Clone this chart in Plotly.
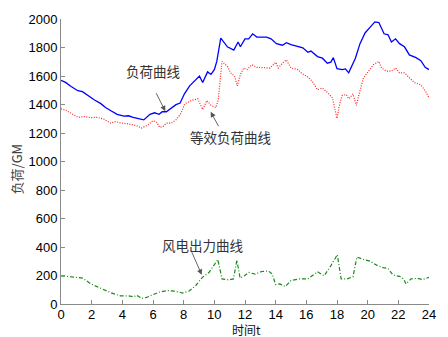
import plotly.graph_objects as go

# ---- data ----
load_t = [0, 0.3, 0.66, 1.1, 1.4, 1.73, 2.16, 2.6, 2.9, 3.2, 3.66, 4.1, 4.4, 4.7, 5.15, 5.4,
          5.8, 6.1, 6.4, 6.6, 6.87, 7.2, 7.5, 7.77, 8.05, 8.39, 8.7, 9.03, 9.24, 9.56, 9.78,
          10.0, 10.16, 10.31, 10.42, 10.85, 11.27, 11.55, 11.7, 12.0, 12.24, 12.5, 12.77,
          13.1, 13.4, 13.7, 14.05, 14.44, 14.7, 15.0, 15.45, 15.77, 16.1, 16.3, 16.73, 17.05,
          17.37, 17.6, 17.76, 18.0, 18.34, 18.55, 18.76, 19.2, 19.5, 19.83, 20.15, 20.47,
          20.73, 20.9, 21.07, 21.33, 21.55, 21.82, 22.08, 22.4, 22.72, 23.15, 23.47, 23.75, 24]
load_v = [1570, 1555, 1526, 1497, 1490, 1463, 1433, 1406, 1379, 1360, 1331, 1319, 1321, 1310,
          1297, 1292, 1331, 1342, 1331, 1349, 1349, 1372, 1399, 1410, 1475, 1531, 1565, 1599,
          1554, 1629, 1611, 1645, 1702, 1805, 1866, 1805, 1782, 1839, 1805, 1861, 1861, 1896,
          1873, 1873, 1873, 1861, 1827, 1816, 1834, 1820, 1805, 1798, 1766, 1775, 1736, 1725,
          1690, 1697, 1729, 1652, 1645, 1650, 1622, 1725, 1827, 1902, 1941, 1980, 1975, 1941,
          1896, 1889, 1839, 1861, 1827, 1805, 1748, 1729, 1707, 1661, 1645]

eq_t = [0, 0.3, 0.66, 1.1, 1.52, 1.95, 2.37, 2.8, 3.23, 3.55, 3.98, 4.4, 4.94, 5.26, 5.69, 6.0,
        6.23, 6.44, 6.65, 6.87, 7.19, 7.5, 7.83, 8.07, 8.5, 8.92, 9.24, 9.52, 9.78, 10.1, 10.25,
        10.36, 10.5, 10.85, 11.06, 11.32, 11.5, 11.7, 11.92, 12.13, 12.45, 12.77, 13.2, 13.63,
        14.0, 14.17, 14.44, 14.7, 15.0, 15.45, 15.66, 16.1, 16.4, 16.73, 17.05, 17.37, 17.7,
        17.85, 18.0, 18.18, 18.34, 18.6, 18.77, 19.04, 19.26, 19.5, 19.73, 20.05, 20.37, 20.73,
        20.9, 21.22, 21.55, 21.82, 22.08, 22.4, 22.72, 23.04, 23.47, 23.75, 24]
eq_v = [1370, 1360, 1338, 1310, 1315, 1308, 1310, 1297, 1269, 1280, 1269, 1264, 1251, 1235,
        1258, 1287, 1276, 1239, 1246, 1269, 1269, 1292, 1338, 1405, 1428, 1440, 1365, 1428,
        1394, 1379, 1428, 1565, 1702, 1668, 1622, 1599, 1531, 1611, 1656, 1645, 1679, 1661,
        1656, 1656, 1697, 1656, 1690, 1713, 1656, 1645, 1622, 1593, 1561, 1504, 1515, 1485,
        1447, 1383, 1303, 1406, 1463, 1470, 1440, 1474, 1394, 1497, 1588, 1634, 1679, 1702,
        1656, 1634, 1634, 1656, 1622, 1622, 1588, 1554, 1538, 1497, 1447]

wind_t = [0, 0.45, 0.88, 1.41, 1.95, 2.59, 3.23, 3.87, 4.4, 4.73, 4.94, 5.26, 5.58, 6.0, 6.44,
          6.97, 7.4, 7.94, 8.36, 8.79, 9.22, 9.65, 9.97, 10.23, 10.5, 10.93, 11.25, 11.47,
          11.68, 11.96, 12.24, 12.66, 13.09, 13.52, 13.78, 13.99, 14.27, 14.63, 15.0, 15.55,
          16.1, 16.73, 17.16, 17.59, 18.02, 18.27, 18.66, 19.04, 19.3, 19.73, 20.15, 20.58,
          21.0, 21.33, 21.65, 22.08, 22.34, 22.5, 22.83, 23.25, 23.58, 24.0]
wind_v = [198, 194, 187, 182, 141, 112, 80, 57, 57, 50, 62, 39, 46, 66, 84, 94, 91, 77, 91,
          130, 187, 221, 267, 312, 176, 169, 176, 308, 182, 198, 221, 210, 228, 232, 210, 137,
          141, 123, 164, 176, 176, 226, 198, 267, 346, 176, 176, 191, 330, 312, 301, 273, 255,
          249, 203, 194, 176, 141, 176, 180, 171, 187]

x_ticks = list(range(0, 25, 2))
y_ticks = list(range(0, 2001, 200))

label_load = "负荷曲线"
label_eq = "等效负荷曲线"
label_wind = "风电出力曲线"
x_title = "时间t"
y_title = "负荷/GM"

# ---- figure ----
fig = go.Figure()
fig.add_trace(go.Scatter(x=load_t, y=load_v, mode="lines",
                         line=dict(color="#0000FF", width=1.3)))
fig.add_trace(go.Scatter(x=eq_t, y=eq_v, mode="lines",
                         line=dict(color="#FF2020", width=1.2, dash="1px,1.5px")))
fig.add_trace(go.Scatter(x=wind_t, y=wind_v, mode="lines",
                         line=dict(color="#1a8a1a", width=1.2, dash="4px,2px,1px,2px")))

cjk = "Noto Sans CJK SC"
txt_font = dict(family=cjk, size=13.5, color="#333333")

def label(text, x, y):
    fig.add_annotation(x=x, y=y, xref="x", yref="y", text=text, showarrow=False,
                       font=txt_font, xanchor="center", yanchor="middle")

def arrow(x, y, ax, ay):
    fig.add_annotation(x=x, y=y, xref="x", yref="y", ax=ax, ay=ay, axref="x", ayref="y",
                       text="", showarrow=True, arrowhead=2, arrowsize=1.2,
                       arrowwidth=0.9, arrowcolor="#555555")

label(label_load, 6.03, 1634)
arrow(6.8, 1353, 6.16, 1490)
label(label_eq, 11.05, 1169)
arrow(9.76, 1349, 10.33, 1237)
label(label_wind, 9.24, 413)
arrow(9.18, 205, 8.49, 374)

fig.add_annotation(x=0.505, y=-0.089, xref="paper", yref="paper", text=x_title,
                   showarrow=False, font=dict(family=cjk, size=12, color="#111111"),
                   xanchor="center", yanchor="middle", borderpad=0)
fig.add_annotation(x=-0.12, y=0.475, xref="paper", yref="paper", text=y_title,
                   showarrow=False, textangle=-90,
                   font=dict(family=cjk, size=13, color="#444444"),
                   xanchor="center", yanchor="middle")

tick_font = dict(family="Arial, Liberation Sans", size=13, color="#000000")
axis_common = dict(showgrid=False, zeroline=False, showline=True, linecolor="#8a8a8a",
                   linewidth=1, ticks="inside", ticklen=4, tickcolor="#8a8a8a",
                   tickfont=tick_font, mirror=False)

fig.update_xaxes(range=[0, 24], tickvals=x_ticks, ticktext=[str(v) for v in x_ticks],
                 ticklabelstandoff=-2, **axis_common)
fig.update_yaxes(range=[0, 2000], tickvals=y_ticks, ticktext=[str(v) for v in y_ticks],
                 **axis_common)

fig.update_layout(width=448, height=337, showlegend=False,
                  margin=dict(l=61, r=13, t=12, b=33),
                  paper_bgcolor="white", plot_bgcolor="white")

fig.write_html("out.html", config={"displayModeBar": False},
               post_script="document.body.style.margin='0';"
                           "document.body.style.overflow='hidden';")
